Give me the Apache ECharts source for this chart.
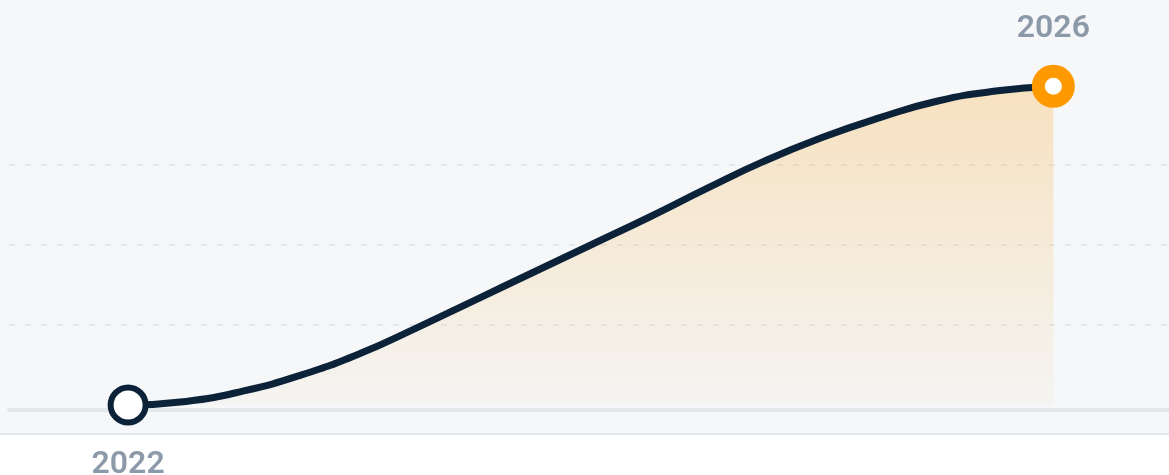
<!DOCTYPE html>
<html>
<head>
<meta charset="utf-8">
<script src="https://cdn.jsdelivr.net/npm/echarts@6/dist/echarts.min.js"></script>
<style>
  html, body { margin: 0; padding: 0; }
  body {
    width: 1169px; height: 475px; overflow: hidden;
    background: linear-gradient(to bottom, #f5f7f9 0px, #f5f7f9 433px, #e3e8ed 433px, #e3e8ed 435px, #ffffff 435px);
  }
  #chart { width: 1169px; height: 475px; }
</style>
</head>
<body>
<div id="chart"></div>
<script>
// Quarterly positions (years) and the plotted values (0–100 scale)
const years  = [2022, 2022.25, 2022.5, 2022.75, 2023, 2023.25, 2023.5, 2023.75, 2024,
                2024.25, 2024.5, 2024.75, 2025, 2025.25, 2025.5, 2025.75, 2026];
const values = [0, 1.1, 4.4, 9.4, 16.0, 24.2, 32.8, 41.4, 50.0,
                58.6, 67.6, 76.2, 83.6, 89.8, 95.0, 98.1, 99.6];
const labelYears = ['2022', '2026'];

const chart = echarts.init(document.getElementById('chart'), null, { renderer: 'canvas' });

const labelFont = { fontFamily: 'Roboto', fontSize: 32, fontWeight: 600, color: '#8c99a8' };

const data = years.map((x, i) => {
  const item = { value: [x, values[i]] };
  if (i === 0) {
    item.symbol = 'circle';
    item.symbolSize = 35;
    item.itemStyle = { color: '#ffffff', borderColor: '#0b2239', borderWidth: 6 };
    item.label = Object.assign({ show: true, position: 'inside', offset: [0, 60], formatter: labelYears[0] }, labelFont);
  } else if (i === years.length - 1) {
    item.symbol = 'circle';
    item.symbolSize = 30;
    item.itemStyle = { color: '#ffffff', borderColor: '#ff9900', borderWidth: 13 };
    item.label = Object.assign({ show: true, position: 'inside', offset: [0, -57], formatter: labelYears[1] }, labelFont);
  } else {
    item.symbol = 'none';
    item.symbolSize = 0;
  }
  return item;
});

chart.setOption({
  backgroundColor: 'transparent',
  animation: false,
  grid: [
    { left: 9, right: 0, top: 85, bottom: 70, containLabel: false },
    { left: 9, right: 0, top: 85, bottom: 65, containLabel: false }
  ],
  xAxis: [{
    type: 'value',
    gridIndex: 0,
    min: 2021.485,
    max: 2026.5,
    show: false
  }, {
    type: 'value',
    gridIndex: 1,
    min: 0,
    max: 1,
    axisLine: { show: true, lineStyle: { color: '#e3e8ed', width: 4 } },
    axisTick: { show: false },
    axisLabel: { show: false },
    splitLine: { show: false }
  }],
  yAxis: [{
    type: 'value',
    gridIndex: 0,
    min: 0,
    max: 100,
    interval: 25,
    axisLine: { show: false },
    axisTick: { show: false },
    axisLabel: { show: false },
    splitLine: {
      show: true,
      showMinLine: false,
      showMaxLine: false,
      lineStyle: { color: '#e4e8ed', width: 2, type: [6, 10] }
    }
  }, {
    type: 'value',
    gridIndex: 1,
    show: false,
    splitLine: { show: false }
  }],
  series: [{
    type: 'line',
    xAxisIndex: 0,
    yAxisIndex: 0,
    data: data,
    smooth: true,
    clip: false,
    showAllSymbol: true,
    lineStyle: { color: '#0b2239', width: 7 },
    areaStyle: {
      origin: 'start',
      color: new echarts.graphic.LinearGradient(0, 0, 0, 1, [
        { offset: 0, color: 'rgba(255,153,0,0.33)' },
        { offset: 1, color: 'rgba(255,153,0,0.04)' }
      ])
    },
    z: 3
  }]
});
</script>
</body>
</html>
